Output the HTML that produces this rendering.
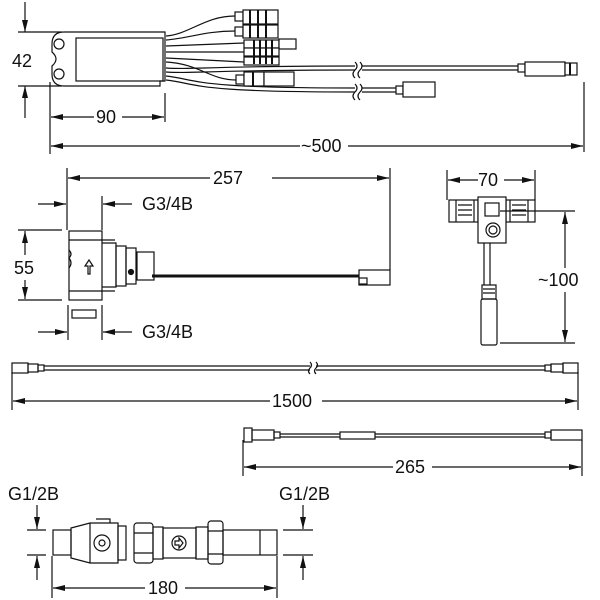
<!DOCTYPE html>
<html><head><style>
body{margin:0;background:#fff}
svg{display:block}
text{font-family:"Liberation Sans",sans-serif;font-size:18px;fill:#111}
</style></head><body>
<svg width="600" height="600" viewBox="0 0 600 600" xmlns="http://www.w3.org/2000/svg">
<defs>
<marker id="a" markerWidth="12" markerHeight="6" refX="12" refY="3" orient="auto" markerUnits="userSpaceOnUse"><path d="M0,0 L12,3 L0,6z" fill="#111"/></marker>
</defs>
<g stroke="#111" stroke-width="1.2" fill="none">
<!-- TOP: 42 dims -->
<line x1="18" y1="32" x2="62" y2="32"/><line x1="18" y1="86" x2="62" y2="86"/>
<line x1="25" y1="2" x2="25" y2="32" marker-end="url(#a)"/>
<line x1="25" y1="118" x2="25" y2="86" marker-end="url(#a)"/>
<!-- box -->
<path d="M64,32 L165,32 L165,81 L160,81 L160,86 L64,86 Q52,86 52,74 L52,66 Q60,59 52,52 L52,44 Q52,32 64,32z"/>
<circle cx="59" cy="44" r="5"/><circle cx="59" cy="74" r="5"/>
<rect x="76" y="38" width="87" height="43"/>
<!-- fan wires -->
<path d="M166,36 C190,34 205,16 235,16"/><path d="M166,40 C190,38 205,31 235,31"/>
<path d="M166,46 L244,43"/><path d="M166,52 L244,52"/><path d="M166,58 L244,62"/>
<path d="M166,62 C200,64 210,80 236,80"/>
<path d="M166,68 C195,70 200,66 355,66"/><path d="M166,72 C195,74 200,70 355,70"/>
<path d="M166,76 C200,80 190,88 355,88"/><path d="M166,80 C200,84 190,92 355,92"/>
<path d="M355,62 q4,4 0,8 q-4,4 0,8 M355,84 q4,4 0,8 q-4,4 0,8"/>
<path d="M360,62 q4,4 0,8 q-4,4 0,8 M360,84 q4,4 0,8 q-4,4 0,8"/>
<line x1="362" y1="66" x2="522" y2="66"/><line x1="362" y1="70" x2="522" y2="70"/>
<line x1="362" y1="88" x2="396" y2="88"/><line x1="362" y1="92" x2="396" y2="92"/>
<!-- connectors -->
<g fill="#fff">
<rect x="235" y="12" width="8" height="9"/><rect x="243" y="10" width="35" height="14"/>
<rect x="235" y="27" width="8" height="9"/><rect x="243" y="25" width="35" height="13"/>
<rect x="244" y="40" width="35" height="8"/><rect x="279" y="39" width="17" height="10"/>
<rect x="244" y="48" width="35" height="8"/>
<rect x="244" y="57" width="35" height="8"/>
<rect x="236" y="75" width="8" height="9"/><rect x="244" y="72" width="20" height="14"/><rect x="264" y="72" width="30" height="14"/>
<rect x="518" y="64" width="7" height="8"/><rect x="525" y="62" width="40" height="14"/><rect x="565" y="63" width="12" height="12"/>
<rect x="396" y="86" width="7" height="8"/><rect x="403" y="82" width="32" height="15"/>
</g>
<path d="M250,10v14M258,10v14M266,10v14M250,25v13M258,25v13M266,25v13M254,40v24M260,40v24M266,40v24M272,40v24M253,72v14M570,63v12" stroke-width="2"/>
<!-- 90 / 500 -->
<line x1="50" y1="82" x2="50" y2="154"/><line x1="165" y1="93" x2="165" y2="122"/><line x1="584" y1="82" x2="584" y2="152"/>
<line x1="94" y1="117" x2="51" y2="117" marker-end="url(#a)"/><line x1="122" y1="117" x2="164" y2="117" marker-end="url(#a)"/>
<line x1="300" y1="146" x2="51" y2="146" marker-end="url(#a)"/><line x1="348" y1="146" x2="583" y2="146" marker-end="url(#a)"/>
<!-- valve 257 -->
<line x1="67" y1="168" x2="67" y2="230"/><line x1="390" y1="168" x2="390" y2="270"/>
<line x1="210" y1="178" x2="68" y2="178" marker-end="url(#a)"/><line x1="272" y1="178" x2="389" y2="178" marker-end="url(#a)"/>
<line x1="38" y1="204" x2="66" y2="204" marker-end="url(#a)"/><line x1="132" y1="204" x2="103" y2="204" marker-end="url(#a)"/>
<line x1="102" y1="196" x2="102" y2="230"/>
<line x1="38" y1="332" x2="67" y2="332" marker-end="url(#a)"/><line x1="132" y1="332" x2="103" y2="332" marker-end="url(#a)"/>
<line x1="68" y1="305" x2="68" y2="340"/><line x1="102" y1="305" x2="102" y2="340"/>
<line x1="18" y1="230" x2="62" y2="230"/><line x1="18" y1="300" x2="62" y2="300"/>
<line x1="25" y1="255" x2="25" y2="231" marker-end="url(#a)"/><line x1="25" y1="280" x2="25" y2="299" marker-end="url(#a)"/>
<rect x="69" y="231" width="33" height="69"/>
<path d="M102,243 L116,243 L116,287 L102,287 M69,240 h46 M69,291 h46 M69,250 q4,4 0,8 q4,5 0,10"/>
<rect x="116" y="246" width="10" height="40"/><rect x="126" y="248" width="10" height="36"/><rect x="137" y="252" width="17" height="28"/>
<circle cx="131" cy="272" r="2.5" fill="#111"/>
<path d="M88,274v-8h-3l4,-6 4,6h-3v8z"/>
<path d="M152,276 L360,276" stroke-width="3"/>
<rect x="359" y="270" width="31" height="15" fill="#fff"/><rect x="359" y="278" width="8" height="6"/>
<rect x="72" y="310" width="24" height="8"/>
<!-- T piece -->
<line x1="447" y1="170" x2="447" y2="200"/><line x1="535" y1="170" x2="535" y2="200"/>
<line x1="478" y1="180" x2="448" y2="180" marker-end="url(#a)"/><line x1="504" y1="180" x2="534" y2="180" marker-end="url(#a)"/>
<rect x="449" y="200" width="29" height="22"/><rect x="506" y="200" width="29" height="22"/>
<path d="M456,200v22M474,200v22M510,200v22M528,200v22M458,205h14M458,210h14M458,215h14M512,205h14M512,210h14M512,215h14"/>
<rect x="478" y="197" width="28" height="46" fill="#fff"/><rect x="485" y="203" width="14" height="13"/>
<circle cx="493" cy="230" r="7"/><circle cx="493" cy="230" r="4"/>
<path d="M484,243v42M490,243v42"/>
<rect x="482" y="285" width="14" height="14"/><rect x="481" y="299" width="16" height="46" rx="2"/>
<path d="M483,289h12M483,293h12"/>
<line x1="500" y1="211" x2="575" y2="211"/><line x1="500" y1="343" x2="575" y2="343"/>
<line x1="565" y1="268" x2="565" y2="212" marker-end="url(#a)"/><line x1="565" y1="292" x2="565" y2="342" marker-end="url(#a)"/>
<!-- 1500 cable -->
<rect x="12" y="363" width="16" height="10"/><rect x="28" y="364" width="10" height="8"/><rect x="38" y="365" width="6" height="6"/>
<path d="M44,366H310M44,370H310M316,366H545M316,370H545"/>
<path d="M310,362q3,3 0,6q-3,3 0,6M316,362q3,3 0,6q-3,3 0,6"/>
<rect x="545" y="365" width="6" height="6"/><rect x="551" y="364" width="12" height="8"/><rect x="563" y="363" width="15" height="10"/>
<line x1="12" y1="372" x2="12" y2="410"/><line x1="578" y1="372" x2="578" y2="410"/>
<line x1="270" y1="401" x2="13" y2="401" marker-end="url(#a)"/><line x1="322" y1="401" x2="577" y2="401" marker-end="url(#a)"/>
<!-- 265 cable -->
<rect x="244" y="428" width="8" height="14"/><rect x="252" y="430" width="22" height="10"/><rect x="274" y="432" width="6" height="6"/>
<path d="M280,434H340M280,437H340M375,434H545M375,437H545"/><rect x="340" y="432" width="35" height="7"/>
<rect x="545" y="432" width="6" height="6"/><rect x="551" y="430" width="31" height="10"/>
<line x1="243" y1="440" x2="243" y2="476"/><line x1="582" y1="440" x2="582" y2="476"/>
<line x1="393" y1="467" x2="244" y2="467" marker-end="url(#a)"/><line x1="432" y1="467" x2="581" y2="467" marker-end="url(#a)"/>
<!-- bottom valve -->
<line x1="27" y1="530" x2="46" y2="530"/><line x1="27" y1="555" x2="46" y2="555"/>
<line x1="37" y1="505" x2="37" y2="529" marker-end="url(#a)"/><line x1="37" y1="580" x2="37" y2="556" marker-end="url(#a)"/>
<line x1="283" y1="530" x2="313" y2="530"/><line x1="283" y1="555" x2="313" y2="555"/>
<line x1="303" y1="505" x2="303" y2="529" marker-end="url(#a)"/><line x1="303" y1="580" x2="303" y2="556" marker-end="url(#a)"/>
<rect x="53" y="530" width="18" height="25"/>
<path d="M71,528 L90,523 L118,523 L118,563 L90,563 L71,558z"/><rect x="118" y="526" width="8" height="34"/>
<path d="M90,523v40M96,519h14v4"/>
<circle cx="102" cy="543" r="8"/><circle cx="102" cy="543" r="3"/>
<rect x="134" y="523" width="19" height="40" rx="3"/><path d="M134,533h19M134,553h19"/>
<rect x="153" y="527" width="10" height="32"/><rect x="163" y="528" width="33" height="30"/><rect x="196" y="527" width="12" height="32"/>
<circle cx="179" cy="543" r="7"/><path d="M175,541h4v-3l4,5-4,5v-3h-4z"/>
<rect x="208" y="521" width="15" height="43" rx="3"/><path d="M208,531h15M208,554h15"/>
<rect x="223" y="530" width="54" height="25"/><line x1="260" y1="530" x2="260" y2="555"/>
<line x1="52" y1="556" x2="52" y2="598"/><line x1="277" y1="556" x2="277" y2="598"/>
<line x1="145" y1="588" x2="53" y2="588" marker-end="url(#a)"/><line x1="185" y1="588" x2="276" y2="588" marker-end="url(#a)"/>
</g>
<text x="12" y="67">42</text>
<text x="96" y="123">90</text>
<text x="301" y="152">~500</text>
<text x="213" y="184">257</text>
<text x="142" y="210">G3/4B</text>
<text x="142" y="338">G3/4B</text>
<text x="14" y="274">55</text>
<text x="478" y="186">70</text>
<text x="538" y="286">~100</text>
<text x="272" y="407">1500</text>
<text x="395" y="473">265</text>
<text x="8" y="500">G1/2B</text>
<text x="279" y="500">G1/2B</text>
<text x="148" y="594">180</text>
</svg>
</body></html>
